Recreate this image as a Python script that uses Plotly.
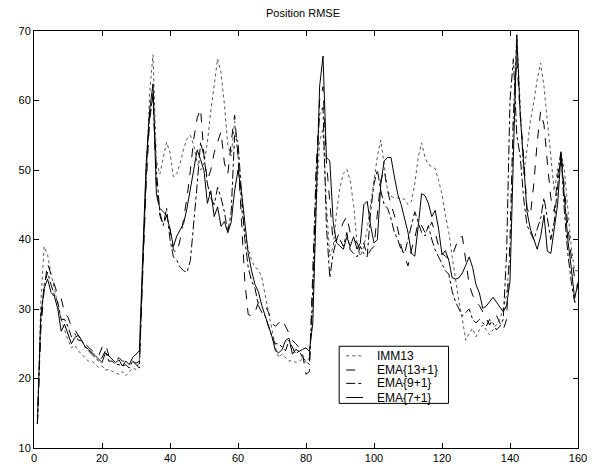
import plotly.graph_objects as go

x_steps = list(range(1, 161))

imm13 = [13.5, 31, 39, 37.8, 35, 33, 30.5, 28.5, 27, 25.5,
         24.4, 24.8, 24, 23.5, 23, 22.5, 22.5, 22, 21.6, 21.8,
         21.2, 21.3, 21, 20.8, 20.6, 21, 20.4, 21, 21.5, 21.3,
         22.5, 36, 50, 61, 66.6, 51.3, 49.4, 51.8, 54, 52.5,
         49, 49.5, 51, 53, 54.5, 55, 53.5, 51, 50, 51,
         54, 58.5, 62.5, 66, 64, 59.5, 53.6, 52, 57, 52,
         44.5, 41, 38.6, 37, 36, 35.7, 34.5, 32, 29.5, 27,
         24.5, 23, 23.5, 23, 22.5, 22.6, 22.3, 22.5, 22.8, 22.3,
         23, 30, 45, 54, 56, 45, 37.6, 39, 44, 47.5,
         49.5, 50.1, 48.5, 45, 39.5, 37.6, 39, 41.5, 45, 48.5,
         52, 54.3, 50.8, 47, 46.2, 46, 46, 45.9, 45.8, 45,
         45.5, 48, 51.8, 53.9, 51.8, 50.8, 50.5, 50.2, 48.5, 46.5,
         43.5, 41, 37.5, 34, 31, 28.5, 25.5, 26.5, 27.2, 26,
         27, 27.7, 27, 26.3, 27, 27.7, 28.5, 30.1, 32, 38,
         58, 69.5, 60, 49.4, 53, 57, 59.8, 63, 65.4, 62,
         57, 51.8, 47, 50, 52.5, 50, 44, 39, 35.5, 35.5]

ema13 = [13.5, 27, 33, 36.5, 35, 33.5, 32, 31.5, 29.5, 28.8,
         27.5, 27, 26.2, 25.5, 25, 24.5, 24, 23.6, 23.2, 24.5,
         25, 23.3, 22.8, 22.6, 23, 22.5, 22.5, 22.2, 22.5, 22.2,
         22.5, 35, 48, 57, 61, 48, 43.5, 42, 43.5, 41.5,
         38.5, 38, 40, 43, 46, 50, 54.5, 57.5, 58.8, 52,
         48.5, 50, 52.5, 54, 55.5, 51, 49.4, 54, 57.9, 52,
         42, 34, 29.2, 29, 29.5, 31, 30.8, 30.5, 29.5, 28,
         27.5, 28, 28.5, 27.5, 26.5, 25.5, 25, 24.5, 23.5, 20.6,
         21, 36, 50, 60, 62, 51.3, 45, 39.5, 40, 41.4,
         42.5, 43.3, 41, 40, 39.5, 38.5, 39.5, 37.6, 38.5, 39,
         44, 48.5, 50, 47, 45, 43.5, 41.5, 39, 37.5, 36.2,
         38.5, 40.2, 42.5, 42, 41, 41.4, 42.5, 41, 39, 38,
         37.6, 37.2, 37.6, 39, 40.4, 40.4, 37, 33.5, 32, 31,
         30.5, 29.5, 28.5, 27.7, 28.5, 29.1, 28, 27, 28.5, 40,
         58, 66, 58, 52, 44.5, 43.5, 48, 54, 58.4, 56.5,
         51, 46, 44, 49, 52.7, 47, 42, 37.6, 34.5, 32.9]

ema9 = [13.5, 28, 33.5, 35.3, 33.5, 32, 31, 28.5, 28.5, 27.5,
        26, 26.5, 25.5, 25.5, 24.5, 24, 23.5, 23, 22.5, 23,
        24, 22.5, 22.5, 22, 22, 21.8, 22, 21.5, 22.5, 22,
        21.5, 36, 50, 58, 60.5, 50, 44, 42, 44.5, 40,
        37.5, 37, 36, 35.5, 35.3, 37, 42, 48, 54, 52,
        48, 46, 45, 47.5, 46, 44, 41, 44, 55, 54,
        47, 40, 36, 34, 33, 30.5, 29.5, 29, 27.5, 26,
        25, 25, 24.5, 24, 25.5, 24.5, 23.5, 24, 23, 22.5,
        22, 33, 50, 58, 59, 42, 34.5, 38, 40, 40,
        39, 41, 38.5, 38, 37.5, 39, 38, 37.5, 44, 48,
        50, 47, 45, 44.5, 43, 41, 40, 38.5, 38, 40,
        42, 44, 42.5, 41, 40.5, 42, 40, 38.5, 37.5, 36.5,
        35.5, 35, 32.5, 31, 30, 29, 29.5, 30, 28.5, 28,
        28.5, 28, 27.5, 28.5, 28, 27, 27.5, 28.5, 38, 60,
        66, 55, 52, 46, 42, 41, 40, 41.5, 43, 46,
        43, 40, 42.5, 47, 52.5, 44, 38, 34, 31, 31]

ema7 = [13.5, 29, 33, 34.3, 32.4, 31.8, 30, 26.8, 27.8, 26.5,
        25, 25.9, 26.2, 25.5, 24.6, 24.2, 23.8, 23.3, 22.8, 22.3,
        23.7, 23.2, 22.8, 22.3, 22.7, 21.8, 22.5, 22, 23, 23.5,
        24, 38, 51, 58.5, 62.4, 46.5, 44.5, 44, 43.5, 41.5,
        39, 40.5, 41.5, 42.3, 44.5, 47.5, 50.5, 52.9, 51.5, 49.9,
        45.2, 47, 43.3, 44.7, 41.9, 42.6, 41, 42.5, 47, 50,
        47, 42, 38, 35.5, 33.5, 32.5, 30.5, 29, 27.5, 26,
        24, 23.7, 24.2, 25.5, 25.8, 23.5, 24.2, 23.9, 24.2, 24.4,
        23.9, 28, 45, 62, 66.4, 51.8, 51.3, 42.5, 39.5, 39,
        38.6, 40.4, 39, 40.4, 38.6, 39.5, 45, 45.5, 42, 39.5,
        40, 48, 51.3, 51.8, 51.8, 49, 46.5, 45, 42.8, 41,
        38, 37.6, 41.9, 46.6, 46.3, 45.2, 43.3, 44.2, 41.5, 37.8,
        38.4, 37, 34.5, 34.3, 34.5, 35.2, 36.3, 37.5, 36, 33.5,
        32.3, 30.1, 30.4, 31, 31.7, 31, 30.2, 29.6, 30.5, 34,
        52, 69.4, 58, 50.3, 44, 41.5, 40, 38.6, 40.4, 43.5,
        38.3, 38, 41.5, 45, 52.2, 46, 40, 36, 31.5, 33.8]

series_names = ["IMM13", "EMA{13+1}", "EMA{9+1}", "EMA{7+1}"]
x_ticks = [0, 20, 40, 60, 80, 100, 120, 140, 160]
y_ticks = [10, 20, 30, 40, 50, 60, 70]

styles = [
    dict(color="#555555", dash="dot", width=1),
    dict(color="black", dash="dash", width=1),
    dict(color="black", dash="dashdot", width=1),
    dict(color="black", dash="solid", width=1),
]

FONT = "Liberation Sans, Arial, sans-serif"

fig = go.Figure()
for name, ys, st in zip(series_names, [imm13, ema13, ema9, ema7], styles):
    fig.add_trace(go.Scatter(x=x_steps, y=ys, mode="lines", name=name, line=st,
                             showlegend=False))

# Compact MATLAB-style legend box in paper coordinates
leg_x0, leg_x1, leg_y0, leg_y1 = 0.561, 0.762, 0.107, 0.244
fig.add_shape(type="rect", xref="paper", yref="paper", x0=leg_x0, x1=leg_x1,
              y0=leg_y0, y1=leg_y1, line=dict(color="black", width=1),
              fillcolor="white", layer="above")
entry_y = [0.221, 0.187, 0.155, 0.121]
for name, st, ey in zip(series_names, styles, entry_y):
    fig.add_shape(type="line", xref="paper", yref="paper", x0=0.574, x1=0.605,
                  y0=ey, y1=ey, line=st, layer="above")
    fig.add_annotation(xref="paper", yref="paper", x=0.627, y=ey, text=name,
                       showarrow=False, xanchor="left", yanchor="middle",
                       font=dict(family=FONT, size=12, color="black"))

font = dict(family=FONT, size=11, color="black")
axis_common = dict(showgrid=False, zeroline=False, showline=True, linecolor="black",
                   linewidth=1, mirror="ticks", ticks="inside", ticklen=5,
                   tickcolor="black", tickfont=font)

fig.update_layout(
    width=590, height=467,
    margin=dict(l=23, r=11, t=23, b=16),
    paper_bgcolor="white", plot_bgcolor="white",
    font=font,
    title=dict(text="Position RMSE", x=0.5, xanchor="center", y=0.988, yanchor="middle",
               font=dict(family=FONT, size=11, color="black")),
    xaxis=dict(range=[0, 160], tickvals=x_ticks, **axis_common),
    yaxis=dict(range=[10, 70], tickvals=y_ticks, **axis_common),
    showlegend=False,
)

fig.write_html("out.html")
